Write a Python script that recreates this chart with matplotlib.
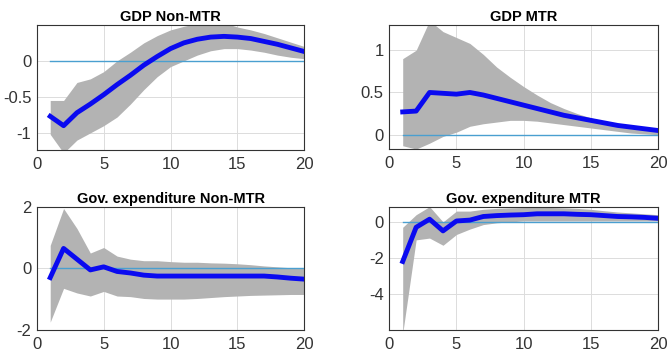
import matplotlib
matplotlib.use("Agg")
import matplotlib.pyplot as plt
import numpy as np

plt.rcParams['font.family'] = ['Liberation Sans', 'DejaVu Sans']

horizon = list(range(1, 21))

gdp_nm_mid = [-0.77, -0.90, -0.72, -0.60, -0.47, -0.33, -0.20, -0.06, 0.06, 0.17,
              0.25, 0.30, 0.33, 0.34, 0.33, 0.31, 0.27, 0.23, 0.18, 0.13]
gdp_nm_up = [-0.55, -0.55, -0.30, -0.25, -0.15, 0.00, 0.12, 0.25, 0.35, 0.43,
             0.48, 0.52, 0.53, 0.53, 0.47, 0.43, 0.38, 0.32, 0.26, 0.20]
gdp_nm_lo = [-1.02, -1.28, -1.10, -1.00, -0.90, -0.78, -0.60, -0.40, -0.22, -0.08,
             0.00, 0.08, 0.14, 0.17, 0.17, 0.15, 0.12, 0.08, 0.05, 0.03]

gdp_m_mid = [0.27, 0.28, 0.50, 0.49, 0.48, 0.50, 0.47, 0.43, 0.39, 0.35,
             0.31, 0.27, 0.23, 0.20, 0.17, 0.14, 0.11, 0.09, 0.07, 0.05]
gdp_m_up = [0.90, 1.00, 1.35, 1.22, 1.15, 1.08, 0.95, 0.80, 0.68, 0.57,
            0.47, 0.38, 0.31, 0.25, 0.20, 0.16, 0.13, 0.10, 0.08, 0.06]
gdp_m_lo = [-0.13, -0.17, -0.10, -0.02, 0.03, 0.10, 0.13, 0.15, 0.17, 0.17,
            0.16, 0.14, 0.12, 0.10, 0.08, 0.06, 0.04, 0.02, 0.01, 0.00]

gov_nm_mid = [-0.30, 0.65, 0.30, -0.05, 0.05, -0.10, -0.15, -0.22, -0.25, -0.25,
              -0.25, -0.25, -0.25, -0.25, -0.25, -0.25, -0.25, -0.28, -0.32, -0.35]
gov_nm_up = [0.75, 1.95, 1.30, 0.50, 0.68, 0.40, 0.30, 0.25, 0.25, 0.22,
             0.20, 0.20, 0.18, 0.17, 0.15, 0.12, 0.08, 0.05, 0.02, 0.00]
gov_nm_lo = [-1.75, -0.65, -0.80, -0.90, -0.75, -0.90, -0.92, -0.98, -1.00, -1.00,
             -1.00, -0.98, -0.95, -0.92, -0.90, -0.88, -0.87, -0.86, -0.85, -0.85]

gov_m_mid = [-2.20, -0.30, 0.15, -0.50, 0.05, 0.10, 0.30, 0.35, 0.38, 0.40,
             0.45, 0.45, 0.45, 0.42, 0.40, 0.35, 0.30, 0.28, 0.25, 0.20]
gov_m_up = [-0.30, 0.40, 0.85, 0.00, 0.60, 0.60, 0.70, 0.75, 0.78, 0.80,
            0.80, 0.80, 0.78, 0.75, 0.70, 0.62, 0.55, 0.50, 0.45, 0.40]
gov_m_lo = [-6.20, -1.00, -0.90, -1.30, -0.70, -0.40, -0.15, -0.05, 0.00, 0.05,
            0.05, 0.05, 0.05, 0.05, 0.05, 0.05, 0.05, 0.05, 0.05, 0.05]

titles = ["GDP Non-MTR", "GDP MTR", "Gov. expenditure Non-MTR", "Gov. expenditure MTR"]
panels = [
    (gdp_nm_mid, gdp_nm_lo, gdp_nm_up, (-1.24, 0.5), [-1, -0.5, 0], ["-1", "-0.5", "0"]),
    (gdp_m_mid, gdp_m_lo, gdp_m_up, (-0.17, 1.3), [0, 0.5, 1], ["0", "0.5", "1"]),
    (gov_nm_mid, gov_nm_lo, gov_nm_up, (-2, 2), [-2, 0, 2], ["-2", "0", "2"]),
    (gov_m_mid, gov_m_lo, gov_m_up, (-6, 0.83), [-4, -2, 0], ["-4", "-2", "0"]),
]
positions = [
    [0.055, 0.577, 0.399, 0.353],
    [0.581, 0.580, 0.401, 0.350],
    [0.055, 0.071, 0.399, 0.346],
    [0.581, 0.071, 0.401, 0.346],
]

fig = plt.figure(figsize=(6.7, 3.55), dpi=100)
for (mid, lo, up, ylim, yt, ytl), pos, title in zip(panels, positions, titles):
    ax = fig.add_axes(pos)
    ax.fill_between(horizon, lo, up, color='#b3b3b3', linewidth=0, zorder=2)
    ax.plot(horizon, [0] * len(horizon), color='#4a9fd0', linewidth=1.0, zorder=3)
    ax.plot(horizon, mid, color='#0a0af0', linewidth=3.5, zorder=4)
    ax.set_xlim(0, 20)
    ax.set_ylim(*ylim)
    ax.set_xticks([0, 5, 10, 15, 20])
    ax.set_yticks(yt)
    ax.set_yticklabels(ytl)
    ax.grid(True, color='#dcdcdc', linewidth=0.7, zorder=0)
    ax.set_axisbelow(True)
    ax.tick_params(labelsize=12, colors='#333333', length=0, pad=4)
    ax.tick_params(axis='x', pad=5)
    for s in ax.spines.values():
        s.set_color('#333333')
        s.set_linewidth(0.8)
    ax.set_title(title, fontsize=10.5, fontweight='bold', pad=3)

fig.savefig("out.png", dpi=100)
